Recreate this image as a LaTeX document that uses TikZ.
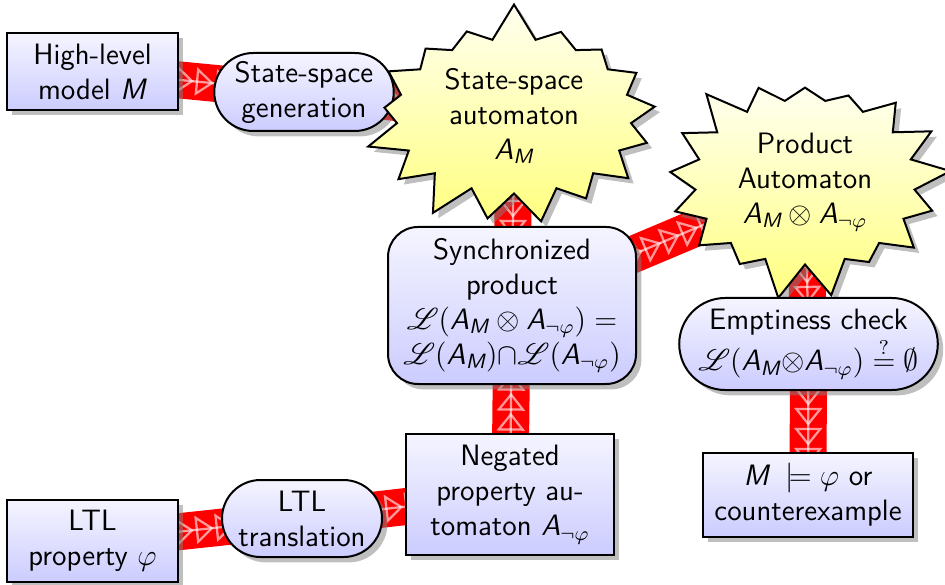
\documentclass[tikz,border=0pt]{standalone}
\usepackage{amsmath,amssymb}
\usepackage{mathrsfs}
\usetikzlibrary{shapes.symbols,shapes.misc,shadows,decorations.markings}
\pgfdeclarelayer{background}
\pgfsetlayers{background,main}
\newcommand{\sv}[1]{\textsl{#1}}
\begin{document}
\begin{tikzpicture}[x=0.4pt,y=-0.4pt,
  font=\sffamily\fontsize{11.8}{14}\selectfont,
  every node/.style={align=center, inner sep=2pt},
  fillblue/.style={top color=blue!4, bottom color=blue!20},
  box/.style={draw, thick, rectangle, fillblue, drop shadow},
  stadium/.style={draw, thick, rounded rectangle, fillblue, drop shadow},
  roundbox/.style={draw, thick, rectangle, rounded corners=12pt, fillblue, drop shadow},
  burst/.style={draw, thick, starburst, starburst points=17, starburst point height=15pt,
     top color=yellow!6, bottom color=yellow!50, drop shadow},
  band/.style={line width=14.8pt, red},
  chev/.style={draw=white, draw opacity=.6, line width=.9pt,
     decoration={markings, mark=between positions 0 and 1 step 8pt with
       {\draw[white, opacity=.6, line width=.9pt, line join=miter] (-6pt,4.8pt) -- (0,0) -- (-6pt,-4.8pt) -- cycle;}},
     postaction={decorate}}]
\useasboundingbox (0,0) rectangle (945,585);

\node[box, minimum width=68.4pt, minimum height=30.8pt] (hl) at (92.5,71.5) {High-level\\model \sv{M}};
\node[stadium, minimum width=69.6pt, minimum height=31.2pt] (ssg) at (304,92) {State-space\\generation};
\node[box, minimum width=68.4pt, minimum height=32.8pt] (ltl) at (92.5,541) {LTL\\property $\varphi$};
\node[stadium, minimum width=68pt, minimum height=30.8pt] (ltlt) at (302,518.5) {LTL\\translation};
\node[box, minimum width=83.2pt, minimum height=48.4pt] (neg) at (510,494.5) {Negated\\property au-\\tomaton $\sv{A}_{\neg\varphi}$};
\node[roundbox, minimum width=99.2pt, minimum height=62.8pt] (sync) at (512,305.5)
  {Synchronized\\product\\$\mathscr{L}(\sv{A}_{\sv{M}}\otimes \sv{A}_{\neg\varphi}) =$\\$\mathscr{L}(\sv{A}_{\sv{M}}){\cap}\mathscr{L}(\sv{A}_{\neg\varphi})$};
\node[burst, random starburst=7, minimum width=124pt, minimum height=92pt] (sb1) at (514,116)
  {State-space\\automaton\\$\sv{A}_{\sv{M}}$};
\node[burst, random starburst=3, minimum width=118pt, minimum height=96pt] (sb2) at (805,182)
  {Product\\Automaton\\$\sv{A}_{\sv{M}}\otimes \sv{A}_{\neg\varphi}$};
\node[stadium, minimum width=98.8pt, minimum height=36.8pt, inner sep=1pt] (empt) at (808.5,344)
  {Emptiness check\\$\mathscr{L}(\sv{A}_{\sv{M}}{\otimes}\sv{A}_{\neg\varphi}) \stackrel{?}{=} \emptyset$};
\node[box, minimum width=84pt, minimum height=33.6pt] (res) at (808,495)
  {$\sv{M}\;\models\varphi$ or\\counterexample};

\begin{pgfonlayer}{background}
\foreach \a/\b in {hl/ssg, ssg/sb1, sb1/sync, ltl/ltlt, ltlt/neg, neg/sync, sync/sb2, sb2/empt, empt/res}{
  \draw[band] (\a.center) -- (\b.center);
  \draw[chev] (\a.center) -- (\b.center);
}
\end{pgfonlayer}
\end{tikzpicture}
\end{document}
